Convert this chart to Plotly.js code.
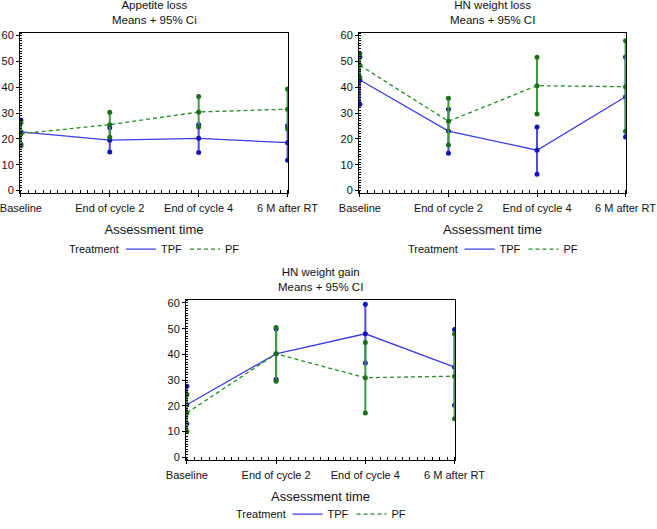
<!DOCTYPE html>
<html><head><meta charset="utf-8">
<script src="https://cdn.plot.ly/plotly-3.0.1.min.js"></script>
<style>html,body{margin:0;padding:0;background:#fff}#chart{width:657px;height:529px}</style>
</head><body><div id="chart"></div>
<script>
const categories = ['Baseline','End of cycle 2','End of cycle 4','6 M after RT'];
const seriesNames = ['TPF','PF'];
const legendTitle = 'Treatment';
const panelTitles = ['Appetite loss<br>Means + 95% Ci','HN weight loss<br>Means + 95% CI','HN weight gain<br>Means + 95% CI'];

const appetiteTPFMean  = [22.7, 19.5, 20.2, 18.5];
const appetiteTPFUpper = [27.3, 24.3, 25.5, 25.1];
const appetiteTPFLower = [17.9, 14.9, 14.7, 11.7];
const appetitePFMean   = [22.0, 25.5, 30.4, 31.5];
const appetitePFUpper  = [26.2, 30.3, 36.4, 39.3];
const appetitePFLower  = [17.2, 20.6, 24.6, 23.9];

const lossTPFMean  = [42.8, 23.0, 15.6, 36.3];
const lossTPFUpper = [51.7, 31.5, 24.6, 51.7];
const lossTPFLower = [33.4, 14.4, 6.3, 20.7];
const lossPFMean   = [48.5, 26.8, 40.6, 40.2];
const lossPFUpper  = [53.0, 35.7, 51.6, 58.0];
const lossPFLower  = [43.8, 17.6, 29.6, 22.9];

const gainTPFMean  = [20.4, 40.2, 48.0, 35.0];
const gainTPFUpper = [27.6, 49.9, 59.5, 49.7];
const gainTPFLower = [13.0, 30.3, 36.6, 20.2];
const gainPFMean   = [17.2, 40.2, 30.9, 31.5];
const gainPFUpper  = [24.4, 50.4, 44.6, 47.9];
const gainPFLower  = [10.0, 29.5, 17.2, 14.9];

const yTickVals = [0,10,20,30,40,50,60];

const W = 657, H = 529;
const FONT = 'Liberation Sans, Arial, sans-serif';
const colors = {
  TPF: {line:'#3c3ce0', marker:'#1414b4', bar:'#4a4aee', dash:'solid'},
  PF:  {line:'#2a8a2a', marker:'#1c6e1c', bar:'#3f9a3f', dash:'4px,3px'}
};

const panels = [
  {TPF:[appetiteTPFMean,appetiteTPFUpper,appetiteTPFLower], PF:[appetitePFMean,appetitePFUpper,appetitePFLower],
   px:[20,288], py:[33,196], yr:[-1.0,61.2], legY:253, titleY:12.5},
  {TPF:[lossTPFMean,lossTPFUpper,lossTPFLower], PF:[lossPFMean,lossPFUpper,lossPFLower],
   px:[359,626], py:[33,196], yr:[-1.0,61.2], legY:253, titleY:13},
  {TPF:[gainTPFMean,gainTPFUpper,gainTPFLower], PF:[gainPFMean,gainPFUpper,gainPFLower],
   px:[186,455], py:[305,467], yr:[-1.1,61.0], legY:522, titleY:284}
];

const xIdx = categories.map((c,i)=>i);
const traces = [];
const layout = {
  width:W, height:H, margin:{l:0,r:0,t:0,b:0},
  paper_bgcolor:'#fff', plot_bgcolor:'#fff',
  font:{family:FONT, size:11, color:'#111'},
  annotations:[], showlegend:true
};

panels.forEach((p,k)=>{
  const sfx = k===0 ? '' : String(k+1);
  const xa = 'x'+sfx, ya = 'y'+sfx;
  const legName = k===0 ? 'legend' : 'legend'+(k+1);
  seriesNames.forEach(name=>{
    const [mean, up, lo] = p[name];
    const c = colors[name];
    traces.push({
      type:'scatter', mode:'lines', x:xIdx, y:mean, xaxis:xa, yaxis:ya, name:name,
      legend:legName, showlegend:true,
      line:{color:c.line, width:1.3, dash:c.dash},
      error_y:{type:'data', symmetric:false, array:mean.map((m,i)=>up[i]-m),
               arrayminus:mean.map((m,i)=>m-lo[i]), color:c.bar, thickness:2, width:0},
      hoverinfo:'skip'
    });
    traces.push({
      type:'scatter', mode:'markers', xaxis:xa, yaxis:ya, showlegend:false, legend:legName,
      x:xIdx.concat(xIdx).concat(xIdx), y:mean.concat(up).concat(lo),
      marker:{color:c.marker, size:5}, hoverinfo:'skip'
    });
  });
  const xKey = 'xaxis'+sfx, yKey = 'yaxis'+sfx;
  layout[xKey] = {
    domain:[p.px[0]/W, p.px[1]/W], anchor:ya, range:[-0.01,3.005],
    tickmode:'array', tickvals:xIdx, ticktext:categories, ticks:'outside', ticklen:3, tickcolor:'#000',
    tickfont:{size:11, family:FONT, color:'#111'}, ticklabeloverflow:'allow', ticklabelstandoff:2,
    minor:{tickmode:'linear', tick0:0, dtick:1/12, ticks:'inside', ticklen:3, tickcolor:'#000'},
    showline:true, mirror:true, linecolor:'#000', linewidth:1, showgrid:false, zeroline:false,
    title:{text:'Assessment time', font:{size:13, family:FONT, color:'#111'}, standoff:11}
  };
  layout[yKey] = {
    domain:[(H-p.py[1])/H, (H-p.py[0])/H], anchor:xa, range:p.yr,
    tickmode:'array', tickvals:yTickVals, ticks:'outside', ticklen:3, tickcolor:'#000',
    tickfont:{size:11, family:FONT, color:'#111'}, ticklabeloverflow:'allow',
    minor:{tickmode:'linear', tick0:0, dtick:1, ticks:'inside', ticklen:2, tickcolor:'#000'},
    showline:true, mirror:true, linecolor:'#000', linewidth:1, showgrid:false, zeroline:false
  };
  const cx = (p.px[0]+p.px[1])/2;
  layout[legName] = {
    orientation:'h', x:(cx - 33)/W, xanchor:'left',
    y:(H-p.legY)/H, yanchor:'middle', bgcolor:'rgba(0,0,0,0)',
    font:{size:11, family:FONT, color:'#111'}, itemwidth:30, tracegroupgap:0,
    entrywidth:19, entrywidthmode:'pixels'
  };
  layout.annotations.push({
    text:legendTitle, xref:'paper', yref:'paper', x:(cx-33)/W, y:(H-p.legY)/H,
    xanchor:'right', yanchor:'middle', showarrow:false, font:{size:11, family:FONT, color:'#111'}
  });
  layout.annotations.push({
    text:panelTitles[k], xref:'paper', yref:'paper', x:cx/W, y:(H-p.titleY)/H,
    xanchor:'center', yanchor:'middle', showarrow:false, font:{size:11.5, family:FONT, color:'#111'}
  });
});

Plotly.newPlot('chart', traces, layout, {staticPlot:true});
</script></body></html>
